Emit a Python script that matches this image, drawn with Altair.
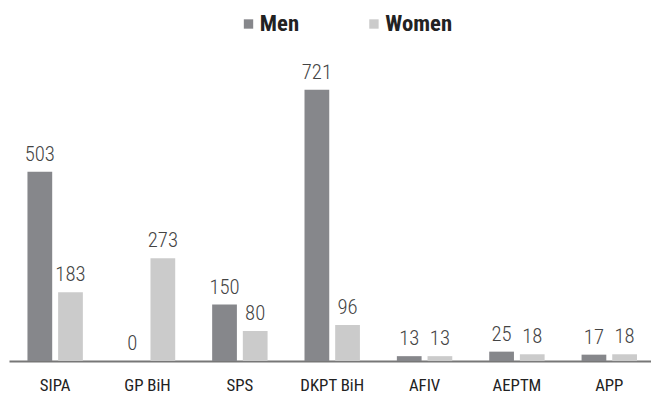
import altair as alt
import pandas as pd

categories = ["SIPA", "GP BiH", "SPS", "DKPT BiH", "AFIV", "AEPTM", "APP"]
men = [503, 0, 150, 721, 13, 25, 17]
women = [183, 273, 80, 96, 13, 18, 18]
series = ["Men", "Women"]

rows = []
for c, m, w in zip(categories, men, women):
    rows.append({"cat": c, "group": "Men", "value": m})
    rows.append({"cat": c, "group": "Women", "value": w})
df = pd.DataFrame(rows)

FONT = "'Roboto Condensed', 'DejaVu Sans Condensed', 'Liberation Sans', sans-serif"

x = alt.X("cat:N", sort=categories, title=None,
          scale=alt.Scale(range=[0, 654.5], paddingInner=0.4, paddingOuter=0.2),
          axis=alt.Axis(labelAngle=0, ticks=False, domainColor="#777777", domainWidth=2,
                        labelFont=FONT, labelFontSize=17, labelColor="#222222",
                        labelPadding=17, grid=False))
xo = alt.XOffset("group:N", sort=series, scale=alt.Scale(paddingInner=0.1935))
y = alt.Y("value:Q", scale=alt.Scale(domain=[0, 932], nice=False), axis=None)

bars = alt.Chart(df).mark_bar().encode(
    x=x, xOffset=xo, y=y,
    color=alt.Color("group:N", sort=series,
                    scale=alt.Scale(domain=series, range=["#86878b", "#cbcbcb"]),
                    legend=alt.Legend(title=None, orient="none", direction="horizontal",
                                      legendX=231, legendY=2, symbolType="square",
                                      symbolSize=90, symbolStrokeWidth=0,
                                      labelFont=FONT, labelFontSize=23, labelFontWeight="bold",
                                      labelColor="#222222", labelOffset=0, columnPadding=64,
                                      padding=0))
)

labels = alt.Chart(df).mark_text(baseline="alphabetic", dy=-11, font=FONT, fontSize=21,
                                 fontWeight=300, color="#444444").encode(
    x=x, xOffset=xo, y=y, text="value:Q"
)

chart = (bars + labels).properties(
    width=650, height=355,
    padding={"left": 1, "top": 0, "right": 0, "bottom": 38},
    autosize=alt.AutoSizeParams(type="none")
).configure_view(stroke=None)

chart.save("out.html", embed_options={"renderer": "svg", "actions": False})
